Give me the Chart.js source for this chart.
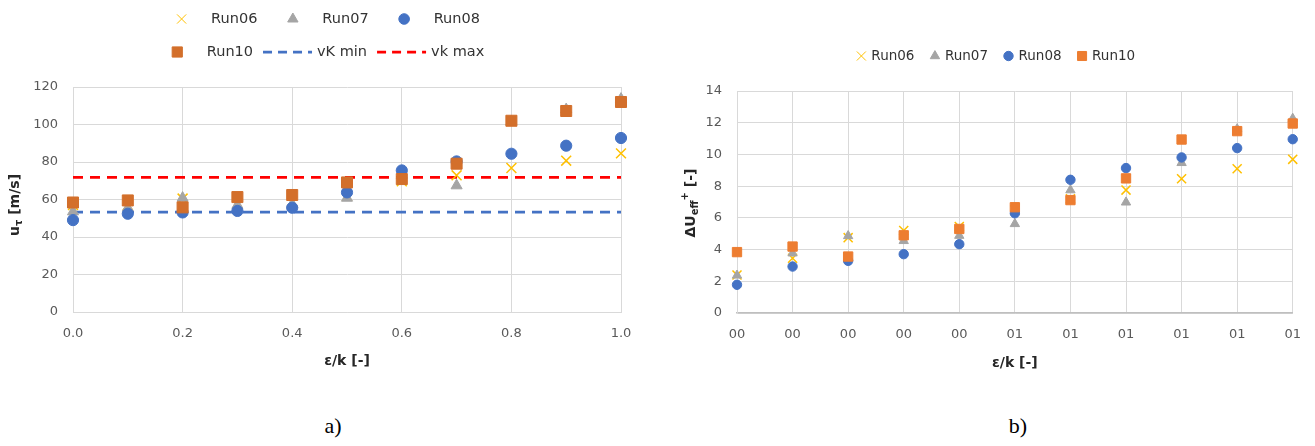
<!DOCTYPE html>
<html>
<head>
<meta charset="utf-8">
<script src="https://cdn.jsdelivr.net/npm/chart.js@4.4.0/dist/chart.umd.min.js"></script>
<style>
  body { margin:0; background:#fff; width:1315px; height:446px; position:relative; overflow:hidden; }
  #wa { position:absolute; left:0; top:0; }
  #wb { position:absolute; left:655px; top:0; }
  .cap { position:absolute; top:410px; width:60px; text-align:center; font:22px "Liberation Serif"; line-height:32px; color:#000; }
</style>
</head>
<body>
<canvas id="wa" width="650" height="380"></canvas>
<canvas id="wb" width="660" height="380"></canvas>
<div class="cap" style="left:303px">a)</div>
<div class="cap" style="left:988px">b)</div>
<script>
var epsK = [0.0, 0.1, 0.2, 0.3, 0.4, 0.5, 0.6, 0.7, 0.8, 0.9, 1.0];

// a) friction velocity u_tau [m/s]
var utRun06 = [57.0, 57.0, 60.5, 58.0, 59.0, 62.0, 69.7, 72.9, 76.8, 80.7, 84.6];
var utRun07 = [53.5, 55.5, 60.8, 57.0, 57.5, 60.8, 73.0, 67.4, 101.5, 108.0, 113.6];
var utRun08 = [49.0, 52.4, 53.1, 53.9, 55.6, 63.8, 75.5, 80.3, 84.4, 88.7, 92.8];
var utRun10 = [58.4, 59.5, 55.8, 61.3, 62.4, 69.1, 70.9, 79.1, 102.0, 107.2, 112.0];
var vkMin = 53.3;
var vkMax = 71.8;

// b) effective roughness function dU_eff+ [-]
var duRun06 = [2.4, 3.45, 4.75, 5.2, 5.45, 6.5, 7.2, 7.75, 8.47, 9.1, 9.69];
var duRun07 = [2.37, 3.77, 4.86, 4.55, 4.88, 5.62, 7.75, 6.98, 9.47, 11.6, 12.26];
var duRun08 = [1.78, 2.93, 3.29, 3.71, 4.34, 6.29, 8.4, 9.14, 9.81, 10.4, 10.96];
var duRun10 = [3.84, 4.19, 3.56, 4.9, 5.3, 6.67, 7.12, 8.49, 10.94, 11.47, 11.95];

var xTicksA = [0, 0.2, 0.4, 0.6, 0.8, 1.0];
var yTicksA = [0, 20, 40, 60, 80, 100, 120];
var xTicksB = epsK;
var yTicksB = [0, 2, 4, 6, 8, 10, 12, 14];

var YELLOW = '#FFC000', GREY = '#A5A5A5', BLUE = '#4472C4', RED = '#FF0000';
var TICK_FONT = {family: '"DejaVu Sans"', size: 13};

function pts(ys) {
  return epsK.map(function(x, i){ return {x: x, y: ys[i]}; });
}

function marker(label, ys, style, color, r, order) {
  return {
    label: label, data: pts(ys), pointStyle: style,
    pointRadius: r, pointHoverRadius: r,
    backgroundColor: color, borderColor: color,
    pointBorderWidth: style == 'crossRot' ? 1.5 : 1,
    clip: false, order: order
  };
}

function hline(label, y, color) {
  return {
    type: 'line', label: label, data: [{x: 0, y: y}, {x: 1, y: y}],
    borderColor: color, borderWidth: 2.75, borderDash: [10, 7],
    pointRadius: 0, showLine: true, fill: false, order: 10
  };
}

function fixTicks(arr) {
  return function(s){ s.ticks = arr.map(function(v){ return {value: v}; }); };
}

// axis titles, with the sub/superscripts drawn as separate runs
var axisTitles = {
  id: 'axisTitles',
  afterDraw: function(chart, args, o) {
    var ctx = chart.ctx, a = chart.chartArea;
    ctx.save();
    ctx.fillStyle = '#262626';
    ctx.textBaseline = 'middle';
    ctx.textAlign = 'center';
    ctx.font = 'bold 14px "DejaVu Sans"';
    ctx.fillText(o.x, (a.left + a.right) / 2, o.xTitleY);

    ctx.translate(o.yTitleX, o.yTitleY);
    ctx.rotate(-Math.PI / 2);
    ctx.textAlign = 'left';
    var total = 0;
    o.y.forEach(function(p){
      ctx.font = 'bold ' + p.size + 'px "DejaVu Sans"';
      p.w = ctx.measureText(p.t).width;
      total += p.w;
    });
    var x = -total / 2;
    o.y.forEach(function(p){
      ctx.font = 'bold ' + p.size + 'px "DejaVu Sans"';
      ctx.fillText(p.t, x, p.dy || 0);
      x += p.w;
    });
    ctx.restore();
  }
};

// legend rows laid out like the spreadsheet one
var rowLegend = {
  id: 'rowLegend',
  afterDraw: function(chart, args, o) {
    var ctx = chart.ctx;
    var ds = chart.data.datasets;
    ctx.save();
    ctx.font = o.size + 'px "DejaVu Sans"';
    ctx.textBaseline = 'middle';
    ctx.textAlign = 'left';
    o.rows.forEach(function(row, ri){
      var items = row.map(function(lbl){
        var d = ds.filter(function(e){ return e.label == lbl; })[0];
        var isLine = d.type == 'line';
        var sw = isLine ? o.lineLen : o.symbol;
        var gap = isLine ? o.lineGap : o.textGap;
        return {d: d, lbl: lbl, isLine: isLine, sw: sw, gap: gap, tw: ctx.measureText(lbl).width};
      });
      var total = 0;
      items.forEach(function(it, i){ total += it.sw + it.gap + it.tw + (i ? o.itemGap[ri] : 0); });
      var x = o.cx - total / 2, y = o.ys[ri];
      items.forEach(function(it, i){
        if (i) x += o.itemGap[ri];
        ctx.save();
        ctx.strokeStyle = it.d.borderColor;
        ctx.fillStyle = it.d.backgroundColor || it.d.borderColor;
        if (it.isLine) {
          ctx.lineWidth = it.d.borderWidth;
          ctx.setLineDash([9, 6]);
          ctx.beginPath();
          ctx.moveTo(x, y);
          ctx.lineTo(x + it.sw, y);
          ctx.stroke();
        } else {
          Chart.helpers.drawPoint(ctx, {
            pointStyle: it.d.pointStyle, radius: o.radius[it.d.pointStyle],
            borderWidth: it.d.pointBorderWidth, rotation: 0
          }, x + it.sw / 2, y);
        }
        ctx.restore();
        x += it.sw + it.gap;
        ctx.fillStyle = '#333333';
        ctx.fillText(it.lbl, x, y);
        x += it.tw;
      });
    });
    ctx.restore();
  }
};

function scales(o) {
  return {
    x: {
      type: 'linear', min: 0, max: 1,
      afterBuildTicks: fixTicks(o.xTicks),
      afterFit: function(s){ s.height = o.xHeight; },
      ticks: {callback: o.xFmt, font: TICK_FONT, color: '#595959', padding: 14, maxRotation: 0, autoSkip: false},
      grid: {color: '#D9D9D9', drawTicks: false},
      border: {color: o.xBorder, width: o.xBorderW}
    },
    y: {
      min: 0, max: o.yMax,
      afterBuildTicks: fixTicks(o.yTicks),
      afterFit: function(s){ s.width = o.yWidth; },
      ticks: {font: TICK_FONT, color: '#595959', padding: 15},
      grid: {color: '#D9D9D9', drawTicks: false},
      border: {color: '#D9D9D9'}
    }
  };
}

new Chart(document.getElementById('wa'), {
  type: 'scatter',
  data: {
    datasets: [
      marker('Run06', utRun06, 'crossRot', YELLOW, 7, 4),
      marker('Run07', utRun07, 'triangle', GREY, 6.4, 3),
      marker('Run08', utRun08, 'circle', BLUE, 5.6, 2),
      marker('Run10', utRun10, 'rect', '#D36F2B', 7.8, 1),
      hline('vK min', vkMin, BLUE),
      hline('vk max', vkMax, RED)
    ]
  },
  options: {
    responsive: false, animation: false, devicePixelRatio: 1,
    layout: {padding: {top: 87, right: 29, left: 0, bottom: 0}},
    plugins: {
      legend: {display: false}, tooltip: {enabled: false},
      axisTitles: {
        x: 'ε/k [-]', xTitleY: 361, yTitleX: 15, yTitleY: 205,
        y: [{t: 'u', size: 14}, {t: 'τ', size: 10, dy: 4}, {t: ' [m/s]', size: 14}]
      },
      rowLegend: {
        rows: [['Run06', 'Run07', 'Run08'], ['Run10', 'vK min', 'vk max']],
        ys: [19, 52], cx: 328, size: 14.5, symbol: 11, textGap: 24,
        lineLen: 49, lineGap: 5, itemGap: [30, 10],
        radius: {crossRot: 6.5, triangle: 6, circle: 5.3, rect: 7.2}
      }
    },
    scales: scales({
      xTicks: xTicksA, yTicks: yTicksA, yMax: 120, xHeight: 68, yWidth: 73,
      xFmt: function(v){ return v.toFixed(1); }, xBorder: '#D9D9D9', xBorderW: 1
    })
  },
  plugins: [axisTitles, rowLegend]
});

new Chart(document.getElementById('wb'), {
  type: 'scatter',
  data: {
    datasets: [
      marker('Run06', duRun06, 'crossRot', YELLOW, 6.4, 4),
      marker('Run07', duRun07, 'triangle', GREY, 5.4, 3),
      marker('Run08', duRun08, 'circle', BLUE, 4.7, 2),
      marker('Run10', duRun10, 'rect', '#ED7D31', 6.6, 1)
    ]
  },
  options: {
    responsive: false, animation: false, devicePixelRatio: 1,
    layout: {padding: {top: 91, right: 14, left: 0, bottom: 0}},
    plugins: {
      legend: {display: false}, tooltip: {enabled: false},
      axisTitles: {
        x: 'ε/k [-]', xTitleY: 363, yTitleX: 36, yTitleY: 203,
        y: [{t: 'ΔU', size: 14}, {t: 'eff', size: 10, dy: 4}, {t: '+', size: 10, dy: -6}, {t: ' [-]', size: 14}]
      },
      rowLegend: {
        rows: [['Run06', 'Run07', 'Run08', 'Run10']],
        ys: [56], cx: 341, size: 13.5, symbol: 9, textGap: 5.5,
        lineLen: 40, lineGap: 5, itemGap: [16],
        radius: {crossRot: 6.4, triangle: 5.4, circle: 4.7, rect: 6.4}
      }
    },
    scales: scales({
      xTicks: xTicksB, yTicks: yTicksB, yMax: 14, xHeight: 67, yWidth: 82,
      xFmt: function(v){ return String(Math.round(v)).padStart(2, '0'); },
      xBorder: '#BFBFBF', xBorderW: 1.5
    })
  },
  plugins: [axisTitles, rowLegend]
});
</script>
</body>
</html>
